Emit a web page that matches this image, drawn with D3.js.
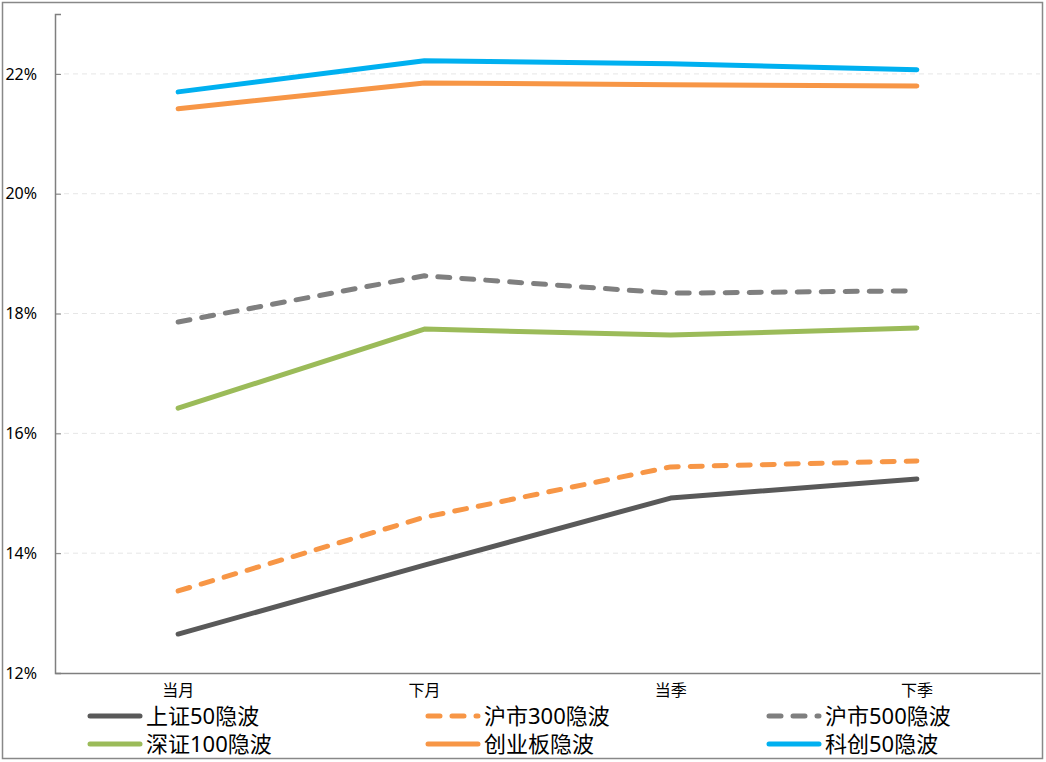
<!DOCTYPE html>
<html><head><meta charset="utf-8">
<script src="https://cdn.jsdelivr.net/npm/d3@7"></script>
<style>body{margin:0;background:#fff;} svg{display:block;}</style>
</head><body>
<svg id="c" width="1046" height="762"></svg>
<script>
const categories = ["当月", "下月", "当季", "下季"];
const seriesNames = ["上证50隐波", "沪市300隐波", "沪市500隐波", "深证100隐波", "创业板隐波", "科创50隐波"];
const sz50 = [12.65, 13.80, 14.92, 15.24];
const hs300 = [13.37, 14.60, 15.44, 15.54];
const hs500 = [17.86, 18.63, 18.34, 18.38];
const sz100 = [16.42, 17.74, 17.64, 17.76];
const cyb = [21.42, 21.85, 21.82, 21.80];
const kc50 = [21.70, 22.22, 22.17, 22.07];
const yTicks = [12, 14, 16, 18, 20, 22];

const series = [
  {name: seriesNames[0], values: sz50, color: "#595959", dash: null},
  {name: seriesNames[1], values: hs300, color: "#F79646", dash: "12,12"},
  {name: seriesNames[2], values: hs500, color: "#7F7F7F", dash: "12,12"},
  {name: seriesNames[3], values: sz100, color: "#9BBB59", dash: null},
  {name: seriesNames[4], values: cyb, color: "#F79646", dash: null},
  {name: seriesNames[5], values: kc50, color: "#00B0F0", dash: null}
];

const svg = d3.select("#c");
const font = "'Noto Sans','Noto Sans CJK SC',sans-serif";
const L = 55, R = 1040, T = 14, B = 673;

svg.append("rect").attr("x", 2.5).attr("y", 2.5).attr("width", 1040).attr("height", 756)
  .attr("fill", "#fff").attr("stroke", "#888").attr("stroke-width", 1.5);

const x = d3.scaleBand().domain(categories).range([L, R]).padding(0);
const y = d3.scaleLinear().domain([12, 23]).range([B, T]);

// gridlines
svg.append("g").selectAll("line").data(yTicks.slice(1)).join("line")
  .attr("x1", L).attr("x2", R).attr("y1", d => y(d)).attr("y2", d => y(d))
  .attr("stroke", "#e6e6e6").attr("stroke-dasharray", "5,4").attr("stroke-width", 1);

// y axis
const yAxis = svg.append("g").attr("transform", `translate(${L},0)`)
  .call(d3.axisLeft(y).tickValues(yTicks).tickFormat(d => d + "%").tickSize(-6).tickPadding(18));
yAxis.select(".domain").attr("stroke", "#7f7f7f").attr("stroke-width", 1.5);
yAxis.selectAll(".tick line").attr("stroke", "#7f7f7f");
yAxis.selectAll("text").attr("font-family", font).attr("font-size", 16).attr("fill", "#000");

// x axis
const xAxis = svg.append("g").attr("transform", `translate(0,${B})`)
  .call(d3.axisBottom(x).tickSize(0).tickPadding(12));
xAxis.select(".domain").attr("stroke", "#7f7f7f").attr("stroke-width", 1.5);
xAxis.selectAll("text").attr("font-family", font).attr("font-size", 16).attr("fill", "#000");

const line = d3.line().x((d, i) => x(categories[i]) + x.bandwidth() / 2).y(d => y(d));

svg.append("g").selectAll("path").data(series).join("path")
  .attr("d", d => line(d.values))
  .attr("fill", "none").attr("stroke", d => d.color).attr("stroke-width", 5)
  .attr("stroke-linecap", "round").attr("stroke-linejoin", "round")
  .attr("stroke-dasharray", d => d.dash);

// legend
const legX = [90, 428, 769];
const legY = [716, 744];
const order = [0, 1, 2, 3, 4, 5];
const lg = svg.append("g").selectAll("g").data(order).join("g")
  .attr("transform", (d, i) => `translate(${legX[i % 3]},${legY[Math.floor(i / 3)]})`);
lg.append("line").attr("x1", 0).attr("x2", 50).attr("y1", 0).attr("y2", 0)
  .attr("stroke", d => series[d].color).attr("stroke-width", 5).attr("stroke-linecap", "round")
  .attr("stroke-dasharray", d => series[d].dash);
lg.append("text").attr("x", 56).attr("y", 0).attr("dy", "0.36em")
  .attr("font-family", font).attr("font-size", 22).attr("fill", "#000")
  .text(d => series[d].name);
</script>
</body></html>
